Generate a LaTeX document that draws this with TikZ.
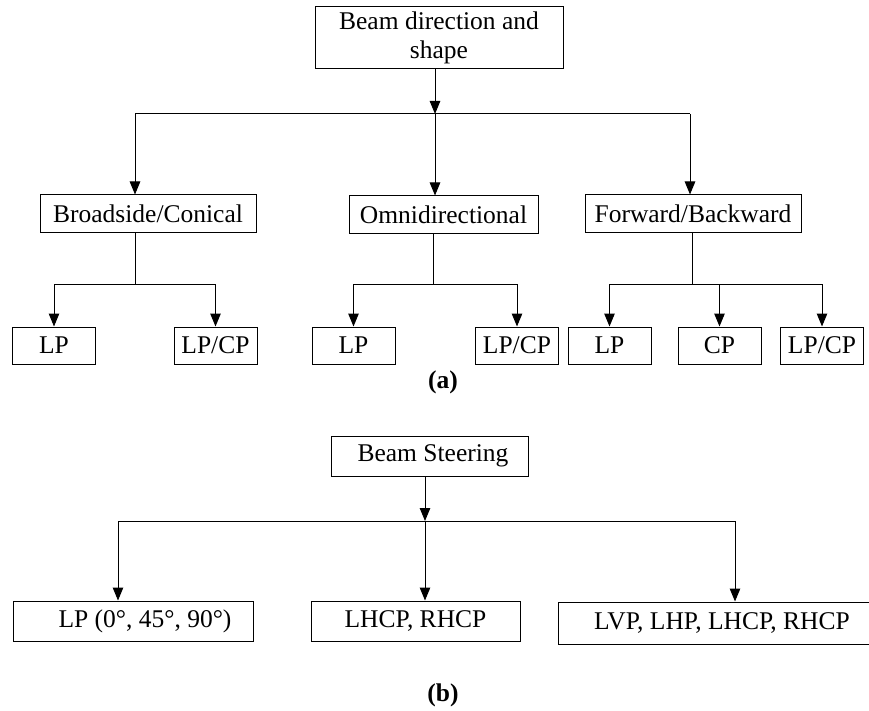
\documentclass[tikz,border=0pt]{standalone}
\usepackage{fontspec}
\setmainfont{Liberation Serif}
\usetikzlibrary{arrows.meta}
\tikzset{
    treebox/.style={draw, line width=1pt, inner sep=0pt, align=center, font=\fontsize{25.5}{29}\selectfont, minimum height=38pt},
    treeleaf/.style={treebox, minimum height=37pt, minimum width=83pt},
    treeline/.style={line width=1pt},
    treearrow/.style={-{Triangle[length=13pt, width=10.5pt]}, line width=1pt},
    treecaption/.style={font=\fontsize{25.5}{29}\selectfont\bfseries}
}

\begin{document}
\begin{tikzpicture}[x=1pt, y=-1pt]
        \useasboundingbox (0,0) rectangle (869,711);
        % (a) beam direction and shape
        \node[treebox, minimum width=248pt, minimum height=62pt] (top) at (439,38) {Beam direction and\\shape};
        \node[treebox, minimum width=216pt] (bs) at (148,214) {Broadside/Conical};
        \node[treebox, minimum width=189pt] (om) at (443.5,215) {Omnidirectional};
        \node[treebox, minimum width=216pt] (fw) at (693,214) {Forward/Backward};
        \node[treeleaf] (lpa) at (54,345.5) {LP};
        \node[treeleaf] (lpcpa) at (215.5,345.5) {LP/CP};
        \node[treeleaf] (lpb) at (353.5,345.5) {LP};
        \node[treeleaf] (lpcpb) at (517,345.5) {LP/CP};
        \node[treeleaf] (lpc) at (609.5,345.5) {LP};
        \node[treeleaf] (cpc) at (719.5,345.5) {CP};
        \node[treeleaf] (lpcpc) at (822,345.5) {LP/CP};
        \node[treecaption] (capa) at (443,382) {(a)};
        \coordinate (ja) at (435,114);
        \coordinate (jl) at (135,114);
        \coordinate (jr) at (690,114);
        \coordinate (ba) at (135,284);
        \coordinate (bb) at (433,284);
        \coordinate (bc) at (692,284);
        \draw[treearrow] (top.south -| ja) -- (ja);
        \draw[treeline] (jl) -- (jr);
        \draw[treearrow] (jl) -- (jl |- bs.north);
        \draw[treearrow] (ja) -- (ja |- om.north);
        \draw[treearrow] (jr) -- (jr |- fw.north);
        \draw[treeline] (ba |- bs.south) -- (ba);
        \draw[treeline] (bb |- om.south) -- (bb);
        \draw[treeline] (bc |- fw.south) -- (bc);
        \draw[treearrow] (ba) -| (lpa.north);
        \draw[treearrow] (ba) -| (lpcpa.north);
        \draw[treearrow] (bb) -| (lpb.north);
        \draw[treearrow] (bb) -| (lpcpb.north);
        \draw[treearrow] (bc) -| (lpc.north);
        \draw[treearrow] (bc) -| (cpc.north);
        \draw[treearrow] (bc) -| (lpcpc.north);
        % (b) beam steering
        \node[treebox, minimum width=197pt, minimum height=40pt] (bst) at (429.5,456) {\hspace*{7pt}Beam Steering};
        \node[treebox, minimum width=240pt, minimum height=40pt] (lpang) at (133,621) {\hspace*{24pt}LP (0°, 45°, 90°)};
        \node[treebox, minimum width=209pt, minimum height=40pt] (hcp) at (415.5,621) {LHCP, RHCP};
        \node[treebox, minimum width=328pt, minimum height=42pt] (lvp) at (722,623) {LVP, LHP, LHCP, RHCP};
        \node[treecaption] (capb) at (443,695) {(b)};
        \coordinate (jb) at (425,521);
        \coordinate (jbl) at (118,521);
        \coordinate (jbr) at (735,521);
        \draw[treearrow] (bst.south -| jb) -- (jb);
        \draw[treeline] (jbl) -- (jbr);
        \draw[treearrow] (jbl) -- (jbl |- lpang.north);
        \draw[treearrow] (jb) -- (jb |- hcp.north);
        \draw[treearrow] (jbr) -- (jbr |- lvp.north);
    \end{tikzpicture}
\end{document}
